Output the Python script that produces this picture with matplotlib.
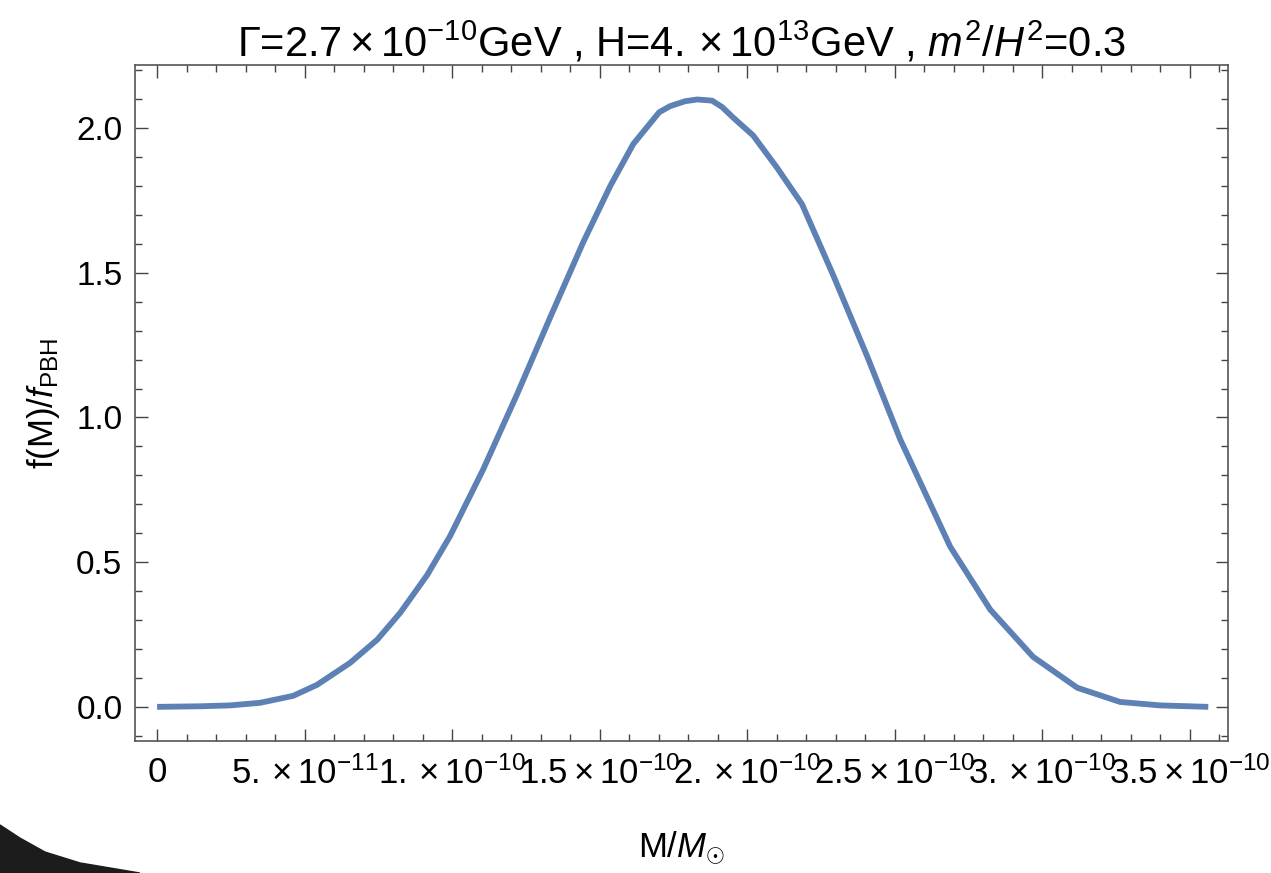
import numpy as np
import matplotlib
matplotlib.use("Agg")
import matplotlib.pyplot as plt
from matplotlib.ticker import MultipleLocator
from matplotlib.patches import Polygon

plt.rcParams['font.family'] = ['Liberation Sans', 'DejaVu Sans']
plt.rcParams['mathtext.fontset'] = 'custom'
plt.rcParams['mathtext.rm'] = 'Liberation Sans'
plt.rcParams['mathtext.it'] = 'Liberation Sans:italic'
plt.rcParams['mathtext.bf'] = 'Liberation Sans:bold'

# masa en unidades de 1e-10 M_sol
mass_1e10 = [0.0, 0.146, 0.247, 0.349, 0.461, 0.542, 0.654, 0.746, 0.824,
             0.915, 0.993, 1.105, 1.220, 1.332, 1.444, 1.536, 1.614,
             1.702, 1.739, 1.790, 1.831, 1.881, 1.915, 1.953, 2.020, 2.100,
             2.186, 2.292, 2.407, 2.519, 2.688, 2.824, 2.969, 3.119, 3.264,
             3.400, 3.563]
f_ratio = [0.0, 0.002, 0.005, 0.014, 0.038, 0.076, 0.152, 0.232, 0.325,
           0.455, 0.590, 0.820, 1.080, 1.345, 1.605, 1.800, 1.945,
           2.055, 2.076, 2.093, 2.099, 2.095, 2.073, 2.036, 1.975, 1.865,
           1.737, 1.491, 1.211, 0.924, 0.554, 0.336, 0.173, 0.066, 0.017,
           0.005, 0.0]

x_ticks = [0, 5e-11, 1e-10, 1.5e-10, 2e-10, 2.5e-10, 3e-10, 3.5e-10]
x_labels = ['0', r'$5.\times10^{-11}$', r'$1.\times10^{-10}$',
            r'$1.5\times10^{-10}$', r'$2.\times10^{-10}$',
            r'$2.5\times10^{-10}$', r'$3.\times10^{-10}$',
            r'$3.5\times10^{-10}$']
y_ticks = [0.0, 0.5, 1.0, 1.5, 2.0]
y_labels = ['0.0', '0.5', '1.0', '1.5', '2.0']

M = np.array(mass_1e10) * 1e-10

fig = plt.figure(figsize=(12.71, 8.73), dpi=100)
ax = fig.add_axes([0.1062, 0.1512, 0.8600, 0.7743])

ax.plot(M, f_ratio, color='#5e81b5', lw=4.2, solid_joinstyle='round',
        solid_capstyle='butt')

ax.set_xlim(-7.5e-12, 3.63e-10)
ax.set_ylim(-0.118, 2.218)
ax.set_xticks(x_ticks)
ax.set_xticklabels(x_labels)
ax.set_yticks(y_ticks)
ax.set_yticklabels(y_labels)
ax.xaxis.set_minor_locator(MultipleLocator(1e-11))
ax.yaxis.set_minor_locator(MultipleLocator(0.1))

ax.tick_params(which='both', direction='in', top=True, right=True,
               color='#444444', width=1.0)
ax.tick_params(which='major', length=9)
ax.tick_params(which='minor', length=5)
ax.tick_params(axis='x', which='major', labelsize=25, pad=11)
ax.tick_params(axis='y', which='major', labelsize=24, pad=9)
for s in ax.spines.values():
    s.set_color('#555555')
    s.set_linewidth(1.2)

ax.set_title(r'$\Gamma$=$2.7\times10^{-10}$GeV , H=$4.\times10^{13}$GeV , $m^2$/$H^2$=0.3',
             fontsize=30, pad=6)
ax.set_ylabel(r'f(M)/$\mathit{f}_{\mathrm{PBH}}$', fontsize=25, labelpad=10)
ax.set_xlabel(r'M/$M_{\odot}$', fontsize=25, labelpad=28)

# mancha oscura de la esquina inferior izquierda
blob = Polygon([(0, 0.055), (0.0157, 0.040), (0.0354, 0.024), (0.063, 0.0115),
                (0.11, 0.0), (0, 0)],
               closed=True, transform=fig.transFigure, color='#1c1c1c', zorder=0)
fig.patches.append(blob)

fig.savefig('out.png', dpi=100)
